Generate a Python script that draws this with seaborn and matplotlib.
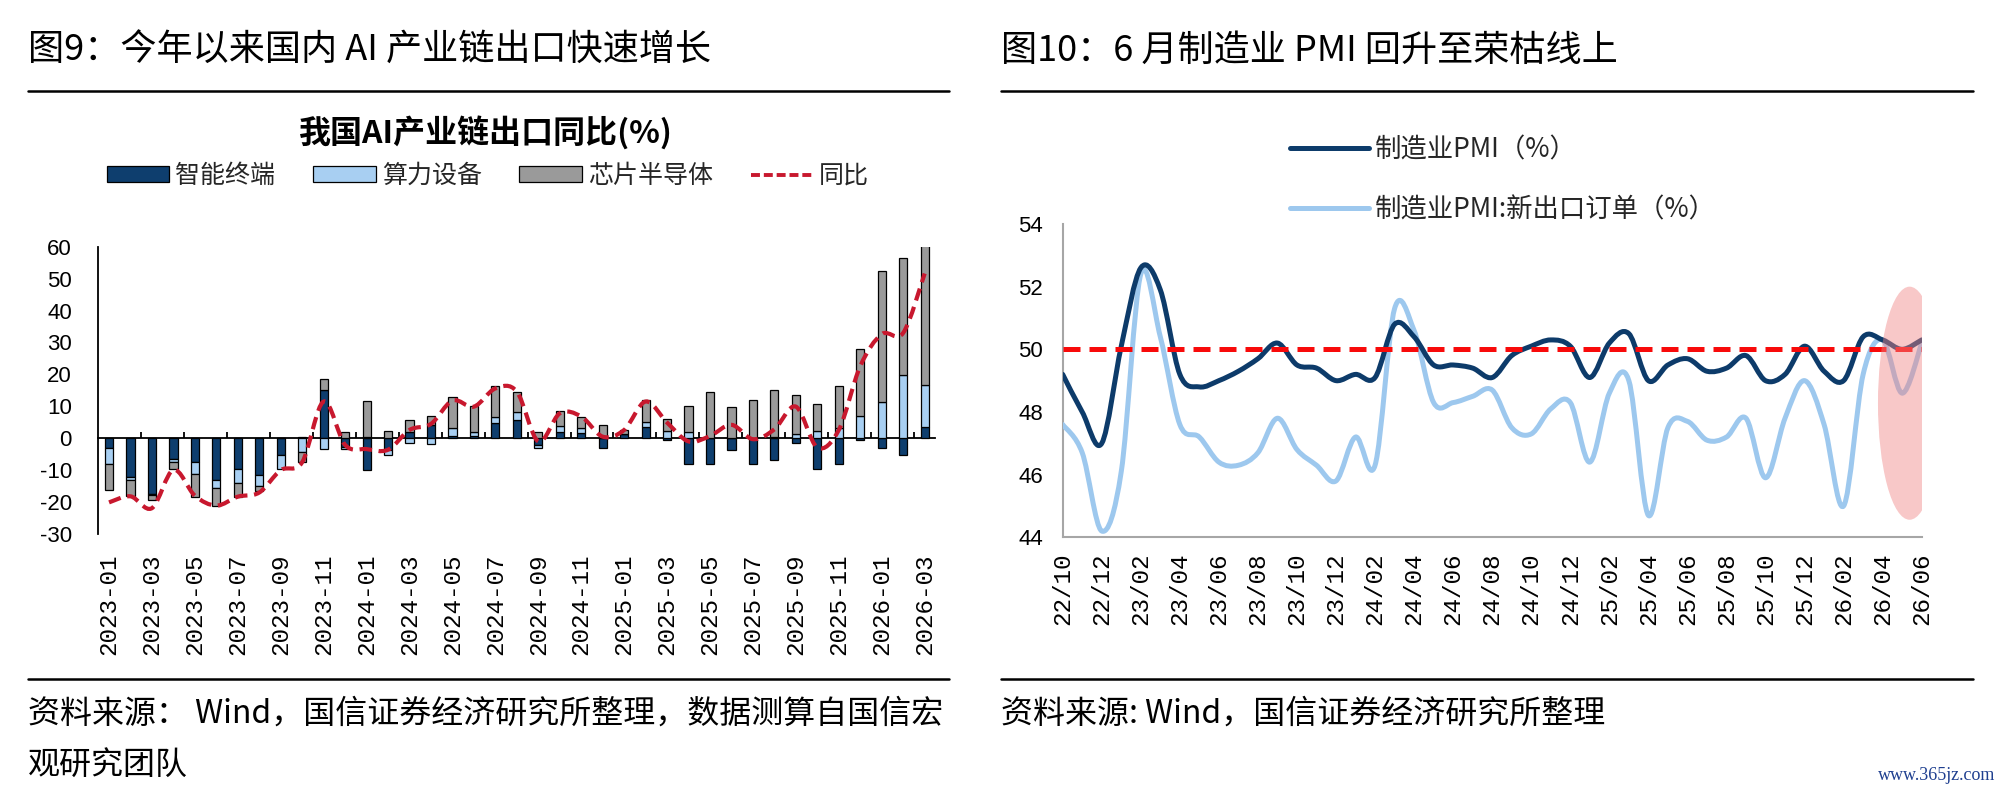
import numpy as np
import pandas as pd
import matplotlib
matplotlib.use("Agg")
import matplotlib.pyplot as plt
import seaborn as sns
from matplotlib.path import Path
from matplotlib.patches import PathPatch, Ellipse, Patch
from matplotlib.lines import Line2D

# ---------------- data: left chart (AI industry chain exports, yoy %) ----------------
ai_months = ["2023-01", "2023-02", "2023-03", "2023-04", "2023-05", "2023-06", "2023-07",
             "2023-08", "2023-09", "2023-10", "2023-11", "2023-12", "2024-01", "2024-02",
             "2024-03", "2024-04", "2024-05", "2024-06", "2024-07", "2024-08", "2024-09",
             "2024-10", "2024-11", "2024-12", "2025-01", "2025-02", "2025-03", "2025-04",
             "2025-05", "2025-06", "2025-07", "2025-08", "2025-09", "2025-10", "2025-11",
             "2025-12", "2026-01", "2026-02", "2026-03"]
smart_terminal = [-3.2, -12.0, -17.4, -6.6, -7.5, -13.0, -9.7, -11.5, -5.2, 0.5, 15.1, -2.6, -9.9,
                  -3.6, 1.8, 4.2, 0.8, 0.7, 4.9, 5.7, -2.1, 1.9, 1.6, -3.2, 1.2, 3.6, -0.5,
                  -8.0, -8.0, -3.6, -8.1, -6.8, -1.4, -9.7, -8.0, -0.5, -3.2, -5.1, 3.4]
computing_equip = [-4.9, -1.2, -0.3, -0.9, -3.6, -2.7, -4.4, -3.4, -4.5, -4.2, -3.4, -0.8, 0.5,
                   -1.6, -1.6, -1.8, 2.5, 1.4, 1.6, 2.6, -1.0, 1.8, 1.6, 0.0, 0.0, 1.6, 2.4,
                   1.9, 0.0, 0.0, 0.0, 0.5, 1.2, 2.2, 3.1, 7.1, 11.5, 19.7, 13.4]
chip_semi = [-8.2, -4.8, -1.7, -2.0, -7.3, -5.6, -4.4, -1.5, 0.0, -3.1, 3.3, 2.1, 11.3,
             2.3, 3.8, 2.9, 9.7, 8.0, 9.9, 6.3, 1.9, 4.7, 3.6, 4.2, 1.4, 6.8, 3.5,
             8.1, 14.4, 9.7, 11.9, 14.6, 12.3, 8.4, 13.3, 20.7, 40.9, 36.7, 46.0]
ai_yoy = [-20.1, -18.2, -21.9, -9.9, -18.0, -21.1, -18.3, -17.0, -10.0, -7.5, 11.5, -2.1, -3.4,
          -3.6, 2.6, 4.5, 11.8, 9.9, 15.6, 14.6, -1.0, 7.8, 6.8, 0.5, 2.6, 11.5, 4.9,
          -1.0, 0.7, 4.2, -0.3, 2.8, 9.9, -2.9, 2.6, 22.6, 32.6, 33.0, 51.6]
ai_series_names = ["智能终端", "算力设备", "芯片半导体"]
ai_line_name = "同比"
ai_yticks = [-30, -20, -10, 0, 10, 20, 30, 40, 50, 60]

# ---------------- data: right chart (manufacturing PMI) ----------------
pmi_months = ["22/10", "22/11", "22/12", "23/01", "23/02", "23/03", "23/04", "23/05", "23/06",
              "23/07", "23/08", "23/09", "23/10", "23/11", "23/12", "24/01", "24/02", "24/03",
              "24/04", "24/05", "24/06", "24/07", "24/08", "24/09", "24/10", "24/11", "24/12",
              "25/01", "25/02", "25/03", "25/04", "25/05", "25/06", "25/07", "25/08", "25/09",
              "25/10", "25/11", "25/12", "26/01", "26/02", "26/03", "26/04", "26/05", "26/06"]
pmi = [49.2, 48.0, 47.0, 50.1, 52.6, 51.9, 49.2, 48.8, 49.0, 49.3, 49.7, 50.2, 49.5, 49.4, 49.0,
       49.2, 49.1, 50.8, 50.4, 49.5, 49.5, 49.4, 49.1, 49.8, 50.1, 50.3, 50.1, 49.1, 50.2, 50.5,
       49.0, 49.5, 49.7, 49.3, 49.4, 49.8, 49.0, 49.2, 50.1, 49.3, 49.0, 50.4, 50.3, 50.0, 50.3]
pmi_new_export = [47.6, 46.7, 44.2, 46.1, 52.4, 50.4, 47.6, 47.2, 46.4, 46.3, 46.7, 47.8, 46.8,
                  46.3, 45.8, 47.2, 46.3, 51.3, 50.6, 48.3, 48.3, 48.5, 48.7, 47.5, 47.3, 48.1,
                  48.3, 46.4, 48.6, 49.0, 44.7, 47.5, 47.7, 47.1, 47.2, 47.8, 45.9, 47.8, 49.0,
                  47.6, 45.0, 49.2, 50.3, 48.6, 50.2]
pmi_names = ["制造业PMI（%）", "制造业PMI:新出口订单（%）"]
boom_bust_line = 50.0
pmi_yticks = [44, 46, 48, 50, 52, 54]

# ---------------- styles ----------------
C_DARK = "#0e3e6e"
C_LIGHT = "#a8cff2"
C_GREY = "#9a9a9a"
C_RED_L = "#c8182e"
C_PMI = "#0d3b6a"
C_PMI_EXP = "#9dc8ee"
C_RED_R = "#f80a0a"

sns.set_theme(style="white")
plt.rcParams["font.family"] = ["Noto Sans CJK SC", "DejaVu Sans"]
plt.rcParams["axes.unicode_minus"] = False

W, H = 2004, 794
fig = plt.figure(figsize=(W / 100, H / 100), dpi=100)
fig.patch.set_facecolor("white")


def fx(px):
    return px / W


def fy(py):
    return 1 - py / H


def smooth_path(x, y):
    """Excel-like smoothed line as cubic Bezier segments through the data points."""
    x = np.asarray(x, float)
    y = np.asarray(y, float)
    n = len(x)
    verts = [(x[0], y[0])]
    codes = [Path.MOVETO]
    for i in range(n - 1):
        xa, ya = (x[i - 1], y[i - 1]) if i > 0 else (x[i], y[i])
        xb, yb = (x[i + 2], y[i + 2]) if i + 2 < n else (x[i + 1], y[i + 1])
        c1 = (x[i] + (x[i + 1] - xa) / 6, y[i] + (y[i + 1] - ya) / 6)
        c2 = (x[i + 1] - (xb - x[i]) / 6, y[i + 1] - (yb - y[i]) / 6)
        verts += [c1, c2, (x[i + 1], y[i + 1])]
        codes += [Path.CURVE4] * 3
    return Path(verts, codes)


# ================= LEFT CHART =================
df = pd.DataFrame({"month": ai_months, ai_series_names[0]: smart_terminal,
                   ai_series_names[1]: computing_equip, ai_series_names[2]: chip_semi,
                   ai_line_name: ai_yoy})
axL = fig.add_axes([fx(98.3), fy(534), fx(935.4) - fx(98.3), fy(246.7) - fy(534)])
xpos = np.arange(len(df))
pos_base = np.zeros(len(df))
neg_base = np.zeros(len(df))
for name, col in zip(ai_series_names, [C_DARK, C_LIGHT, C_GREY]):
    vals = df[name].to_numpy()
    bottoms = np.where(vals >= 0, pos_base, neg_base)
    axL.bar(xpos, vals, bottom=bottoms, width=0.38, color=col, edgecolor="black",
            linewidth=0.9, zorder=3)
    pos_base = pos_base + np.where(vals > 0, vals, 0)
    neg_base = neg_base + np.where(vals < 0, vals, 0)

axL.add_patch(PathPatch(smooth_path(xpos, df[ai_line_name]), fill=False, edgecolor=C_RED_L,
                        linewidth=3.0, linestyle=(0, (3.0, 1.6)), capstyle="butt", zorder=5))

axL.set_xlim(-0.5, len(df) - 0.5)
axL.set_ylim(ai_yticks[0], ai_yticks[-1])
axL.set_yticks(ai_yticks)
axL.set_yticklabels([str(v) for v in ai_yticks], fontfamily="Liberation Sans", fontsize=16)
axL.tick_params(axis="y", direction="in", length=5, width=1.3, color="black", pad=19,
                labelcolor="black")
axL.set_xticks(xpos[::2])
axL.set_xticklabels(df["month"].iloc[::2], rotation=90, fontfamily="Liberation Mono",
                    fontsize=17.5)
axL.tick_params(axis="x", length=0, pad=14, labelcolor="black")
for s in ["top", "right", "bottom"]:
    axL.spines[s].set_visible(False)
axL.spines["left"].set_color("black")
axL.spines["left"].set_linewidth(1.3)
axL.set_facecolor("white")
axL.grid(False)

# zero axis line with category-boundary tick marks
zero_frac = (0 - ai_yticks[0]) / (ai_yticks[-1] - ai_yticks[0])
sec = axL.secondary_xaxis(zero_frac)
sec.set_xticks(np.arange(1.5, len(df) - 0.5, 2))
sec.set_xticklabels([])
sec.tick_params(axis="x", direction="in", length=4.5, width=1.3, color="black")
sec.spines["bottom"].set_color("black")
sec.spines["bottom"].set_linewidth(1.3)
sec.spines["bottom"].set_zorder(2)

fig.text(fx(486), fy(133), "我国AI产业链出口同比(%)", ha="center", va="center",
         fontsize=23, fontweight="bold", color="black")
handlesL = [Patch(facecolor=C_DARK, edgecolor="black", linewidth=0.9),
            Patch(facecolor=C_LIGHT, edgecolor="black", linewidth=0.9),
            Patch(facecolor=C_GREY, edgecolor="black", linewidth=0.9),
            Line2D([], [], color=C_RED_L, linewidth=2.8, linestyle=(0, (2.3, 1.0)))]
fig.legend(handlesL, ai_series_names + [ai_line_name], loc="center",
           bbox_to_anchor=(fx(488), fy(176)), ncol=4, frameon=False, fontsize=18,
           handlelength=2.5, handleheight=0.6, handletextpad=0.25, columnspacing=1.5,
           borderpad=0, borderaxespad=0)

# ================= RIGHT CHART =================
axR = fig.add_axes([fx(1062.7), fy(537.3), fx(1921.7) - fx(1062.7), fy(224) - fy(537.3)])
rx = np.arange(len(pmi_months))
axR.add_patch(PathPatch(smooth_path(rx, pmi_new_export), fill=False, edgecolor=C_PMI_EXP,
                        linewidth=3.6, capstyle="round", joinstyle="round", zorder=3))
axR.add_patch(PathPatch(smooth_path(rx, pmi), fill=False, edgecolor=C_PMI,
                        linewidth=3.6, capstyle="round", joinstyle="round", zorder=4))
axR.axhline(boom_bust_line, color=C_RED_R, linewidth=3.6, linestyle=(0, (3.4, 1.8)),
            zorder=5)
axR.add_patch(Ellipse((43.38, 48.28), width=3.24, height=7.44, facecolor="#f08585",
                      edgecolor="none", alpha=0.45, zorder=6))
axR.set_xlim(0, len(pmi_months) - 1)
axR.set_ylim(pmi_yticks[0], pmi_yticks[-1])
axR.set_yticks(pmi_yticks)
axR.set_yticklabels([str(v) for v in pmi_yticks], fontfamily="Liberation Sans", fontsize=16)
axR.set_xticks(rx[::2])
axR.set_xticklabels([pmi_months[i] for i in rx[::2]], rotation=90,
                    fontfamily="Liberation Mono", fontsize=17.5)
axR.tick_params(axis="both", direction="out", length=5, width=1.5, color="#a6a6a6",
                labelcolor="black")
axR.tick_params(axis="y", pad=9)
axR.tick_params(axis="x", pad=6)
sns.despine(ax=axR)
for s in ["left", "bottom"]:
    axR.spines[s].set_color("#a6a6a6")
    axR.spines[s].set_linewidth(1.5)
axR.set_facecolor("white")
axR.grid(False)

fig.legend([Line2D([], [], color=C_PMI, linewidth=3.6, solid_capstyle="round")],
           [pmi_names[0]], loc="center left", bbox_to_anchor=(fx(1290), fy(150)),
           frameon=False, fontsize=19, handlelength=3.0, handletextpad=0.2, borderpad=0,
           borderaxespad=0)
fig.legend([Line2D([], [], color=C_PMI_EXP, linewidth=3.6, solid_capstyle="round")],
           [pmi_names[1]], loc="center left", bbox_to_anchor=(fx(1290), fy(210)),
           frameon=False, fontsize=19, handlelength=3.0, handletextpad=0.2, borderpad=0,
           borderaxespad=0)

# ================= page decorations =================
fig.text(fx(28), fy(51), "图9：今年以来国内 AI 产业链出口快速增长", ha="left", va="center",
         fontsize=26, color="black")
fig.text(fx(1001), fy(51), "图10：6 月制造业 PMI 回升至荣枯线上", ha="left", va="center",
         fontsize=26, color="black")
for (x0, x1) in [(28, 949), (1001, 1973)]:
    for yy in [91, 679]:
        fig.add_artist(Line2D([fx(x0), fx(x1)], [fy(yy), fy(yy)], transform=fig.transFigure,
                              color="black", linewidth=1.8))
fig.text(fx(28), fy(714), "资料来源： Wind，国信证券经济研究所整理，数据测算自国信宏",
         ha="left", va="center", fontsize=23, color="black")
fig.text(fx(28), fy(765), "观研究团队", ha="left", va="center", fontsize=23, color="black")
fig.text(fx(1001), fy(714), "资料来源: Wind，国信证券经济研究所整理", ha="left", va="center",
         fontsize=23, color="black")
fig.text(fx(1995), fy(776), "www.365jz.com", ha="right", va="center", fontsize=13,
         fontfamily="Liberation Serif", color="#1f3f8f")

fig.savefig("out.png", dpi=100, facecolor="white")
